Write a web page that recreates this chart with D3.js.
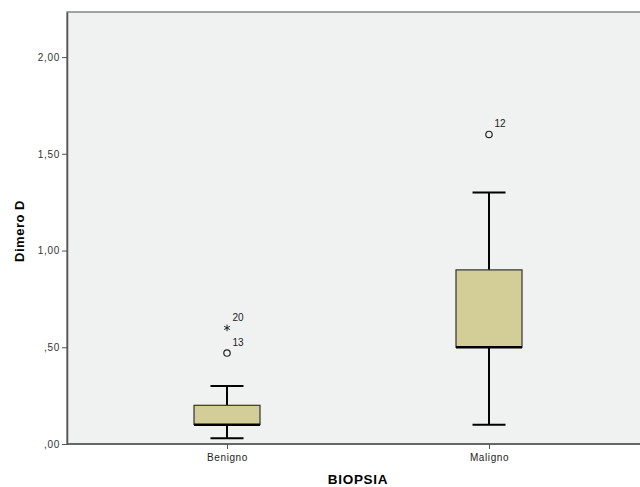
<!DOCTYPE html>
<html><head><meta charset="utf-8">
<script src="https://cdn.jsdelivr.net/npm/d3@7"></script>
<style>body{margin:0;background:#fff}svg{display:block}</style>
</head><body>
<script>
const categories = ["Benigno", "Maligno"];
const whiskerLow = [0.03, 0.10];
const q1 = [0.10, 0.50];
const median = [0.10, 0.50];
const q3 = [0.20, 0.90];
const whiskerHigh = [0.30, 1.30];
const outlierCat = ["Benigno", "Benigno", "Maligno"];
const outlierVal = [0.47, 0.60, 1.60];
const outlierLabel = ["13", "20", "12"];
const outlierType = ["circle", "star", "circle"];
const yTicks = [0, 0.5, 1.0, 1.5, 2.0];
const yTickLabels = [",00", ",50", "1,00", "1,50", "2,00"];

const W = 640, H = 487;
const m = {left: 67, top: 12, right: -5, bottom: 43};
const FONT = "Arial, 'Liberation Sans', sans-serif";
const svg = d3.select("body").append("svg").attr("width", W).attr("height", H);

const y = d3.scaleLinear().domain([0, 2.233]).range([H - m.bottom, m.top]);
const x = d3.scalePoint().domain(categories).range([227, 489]);

// plot background
svg.append("rect").attr("x", m.left).attr("y", m.top)
  .attr("width", W - m.left - m.right).attr("height", H - m.bottom - m.top)
  .attr("fill", "#f0f1f1").attr("stroke", "#858585").attr("stroke-width", 1.5);

// y axis
const yAxis = d3.axisLeft(y).tickValues(yTicks).tickFormat((d, i) => yTickLabels[i]).tickSize(5).tickSizeOuter(0);
const ga = svg.append("g").attr("transform", `translate(${m.left},0)`).call(yAxis);
ga.select(".domain").attr("stroke", "#555").attr("stroke-width", 1.5);
ga.selectAll(".tick line").attr("stroke", "#555");
ga.selectAll("text").attr("font-family", FONT).attr("font-size", 10).attr("fill", "#333")
  .style("letter-spacing", "0.7px").attr("dx", 1);

// x axis
const xAxis = d3.axisBottom(x).tickSize(5).tickSizeOuter(0);
const gx = svg.append("g").attr("transform", `translate(0,${H - m.bottom})`).call(xAxis);
gx.select(".domain").attr("d", `M${m.left},0H${W}`).attr("stroke", "#555").attr("stroke-width", 1.5);
gx.selectAll(".tick line").attr("stroke", "#555");
gx.selectAll("text").attr("font-family", FONT).attr("font-size", 10).attr("fill", "#222")
  .style("letter-spacing", "0.6px").attr("dy", "0.85em");

// axis titles
svg.append("text").attr("x", 358).attr("y", 483.5).attr("text-anchor", "middle")
  .attr("font-family", FONT).attr("font-weight", "bold").attr("font-size", 13.5)
  .style("letter-spacing", "0.7px").text("BIOPSIA");
svg.append("text").attr("transform", `translate(24,231) rotate(-90)`).attr("text-anchor", "middle")
  .attr("font-family", FONT).attr("font-weight", "bold").attr("font-size", 13)
  .style("letter-spacing", "0.5px").text("Dimero D");

const bw = 66, cap = 33;
categories.forEach((c, i) => {
  const cx = x(c);
  const g = svg.append("g");
  // whiskers
  g.append("line").attr("x1", cx).attr("x2", cx).attr("y1", y(whiskerHigh[i])).attr("y2", y(q3[i])).attr("stroke", "#000").attr("stroke-width", 2);
  g.append("line").attr("x1", cx).attr("x2", cx).attr("y1", y(q1[i])).attr("y2", y(whiskerLow[i])).attr("stroke", "#000").attr("stroke-width", 2);
  g.append("line").attr("x1", cx - cap / 2).attr("x2", cx + cap / 2).attr("y1", y(whiskerHigh[i])).attr("y2", y(whiskerHigh[i])).attr("stroke", "#000").attr("stroke-width", 2);
  g.append("line").attr("x1", cx - cap / 2).attr("x2", cx + cap / 2).attr("y1", y(whiskerLow[i])).attr("y2", y(whiskerLow[i])).attr("stroke", "#000").attr("stroke-width", 2);
  // box
  g.append("rect").attr("x", cx - bw / 2).attr("y", y(q3[i])).attr("width", bw).attr("height", y(q1[i]) - y(q3[i]))
    .attr("fill", "#d3ce97").attr("stroke", "#333").attr("stroke-width", 1.2);
  g.append("line").attr("x1", cx - bw / 2).attr("x2", cx + bw / 2).attr("y1", y(median[i])).attr("y2", y(median[i])).attr("stroke", "#000").attr("stroke-width", 2.5);
});

// outliers
outlierVal.forEach((v, i) => {
  const cx = x(outlierCat[i]), cy = y(v);
  if (outlierType[i] === "circle") {
    svg.append("circle").attr("cx", cx).attr("cy", cy).attr("r", 3.2).attr("fill", "none").attr("stroke", "#222").attr("stroke-width", 1.2);
  } else {
    svg.append("path").attr("d", d3.symbol(d3.symbolAsterisk, 30)()).attr("transform", `translate(${cx},${cy})`)
      .attr("stroke", "#222").attr("stroke-width", 1).attr("fill", "none");
  }
  svg.append("text").attr("x", cx + 5.5).attr("y", cy - 7).attr("font-family", FONT)
    .attr("font-size", 10).attr("fill", "#222").text(outlierLabel[i]);
});
</script>
</body></html>
